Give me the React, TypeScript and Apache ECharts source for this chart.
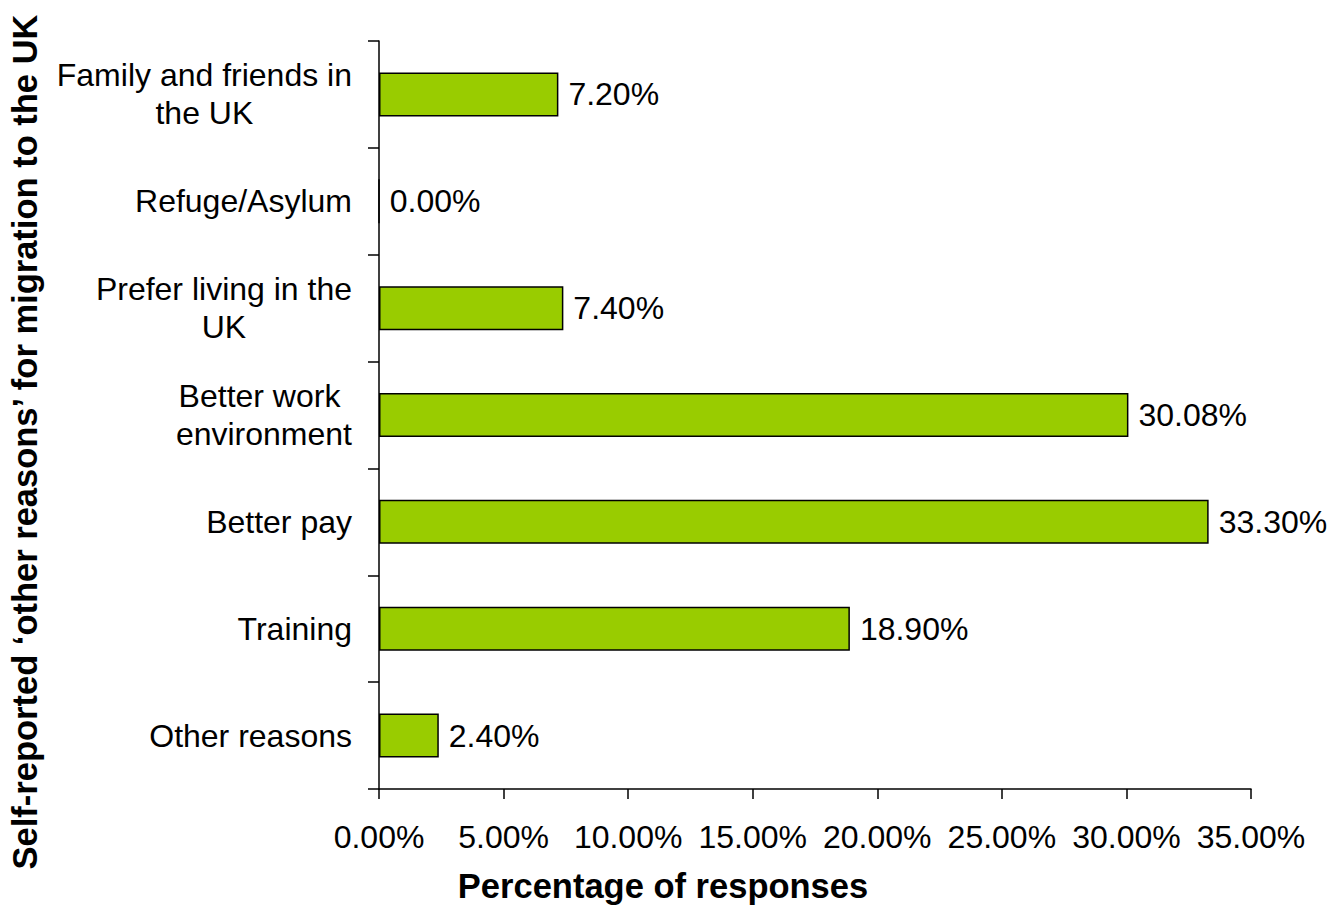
import React, { useEffect, useRef } from "react";
import * as echarts from "echarts";

const categories = [
  "Family and friends in\nthe UK",
  "Refuge/Asylum",
  "Prefer living in the\nUK",
  "Better work \nenvironment",
  "Better pay",
  "Training",
  "Other reasons",
];
const values = [7.2, 0.0, 7.4, 30.08, 33.3, 18.9, 2.4];
const xTicks = { min: 0, max: 35, interval: 5 };
const xTitle = "Percentage of responses";
const yTitle = "Self-reported \u2018other reasons\u2019 for migration to the UK";

const FONT = "'Liberation Sans', Arial, Helvetica, sans-serif";
const FS = 32;

export default function App() {
  const ref = useRef<HTMLDivElement>(null);
  useEffect(() => {
    document.body.style.margin = "0";
    if (!ref.current) return;
    const chart = echarts.init(ref.current, undefined, { renderer: "svg" });
    chart.setOption({
      animation: false,
      backgroundColor: "#ffffff",
      textStyle: { fontFamily: FONT },
      grid: { left: 379, right: 78, top: 41, bottom: 118, containLabel: false },
      xAxis: {
        type: "value",
        min: xTicks.min,
        max: xTicks.max,
        interval: xTicks.interval,
        splitLine: { show: false },
        axisLine: { show: true, lineStyle: { color: "#000", width: 1.5 } },
        axisTick: { show: true, length: 10, lineStyle: { color: "#000", width: 1.5 } },
        axisLabel: {
          margin: 32,
          fontSize: FS,
          color: "#000",
          fontFamily: FONT,
          formatter: (v: number) => v.toFixed(2) + "%",
        },
      },
      yAxis: {
        type: "category",
        data: categories,
        inverse: true,
        axisLine: { show: true, lineStyle: { color: "#000", width: 1.5 } },
        axisTick: { show: true, length: 11, lineStyle: { color: "#000", width: 1.5 } },
        axisLabel: {
          margin: 27,
          fontSize: FS,
          color: "#000",
          fontFamily: FONT,
          lineHeight: 38,
          formatter: (v: string) =>
            v
              .split("\n")
              .map((l) => "{c|" + l + "}")
              .join("\n"),
          rich: {
            c: { align: "center", fontSize: FS, lineHeight: 38, fontFamily: FONT, color: "#000" },
          },
        },
      },
      series: [
        {
          type: "bar",
          data: values,
          barWidth: 44,
          itemStyle: { color: "#99CC00", borderColor: "#000", borderWidth: 1.5 },
          label: {
            show: true,
            position: "right",
            distance: 10,
            fontSize: FS,
            color: "#000",
            fontFamily: FONT,
            formatter: (p: any) => Number(p.value).toFixed(2) + "%",
          },
        },
      ],
      graphic: [
        {
          type: "text",
          x: 663,
          y: 886,
          style: {
            text: xTitle,
            font: "bold 34.5px " + FONT,
            fill: "#000",
            textAlign: "center",
            textVerticalAlign: "middle",
          },
        },
        {
          type: "text",
          x: 24.5,
          y: 442,
          rotation: Math.PI / 2,
          style: {
            text: yTitle,
            font: "bold 34.5px " + FONT,
            fill: "#000",
            textAlign: "center",
            textVerticalAlign: "middle",
          },
        },
      ],
    });
    return () => chart.dispose();
  }, []);
  return <div ref={ref} style={{ width: 1329, height: 907 }} />;
}
